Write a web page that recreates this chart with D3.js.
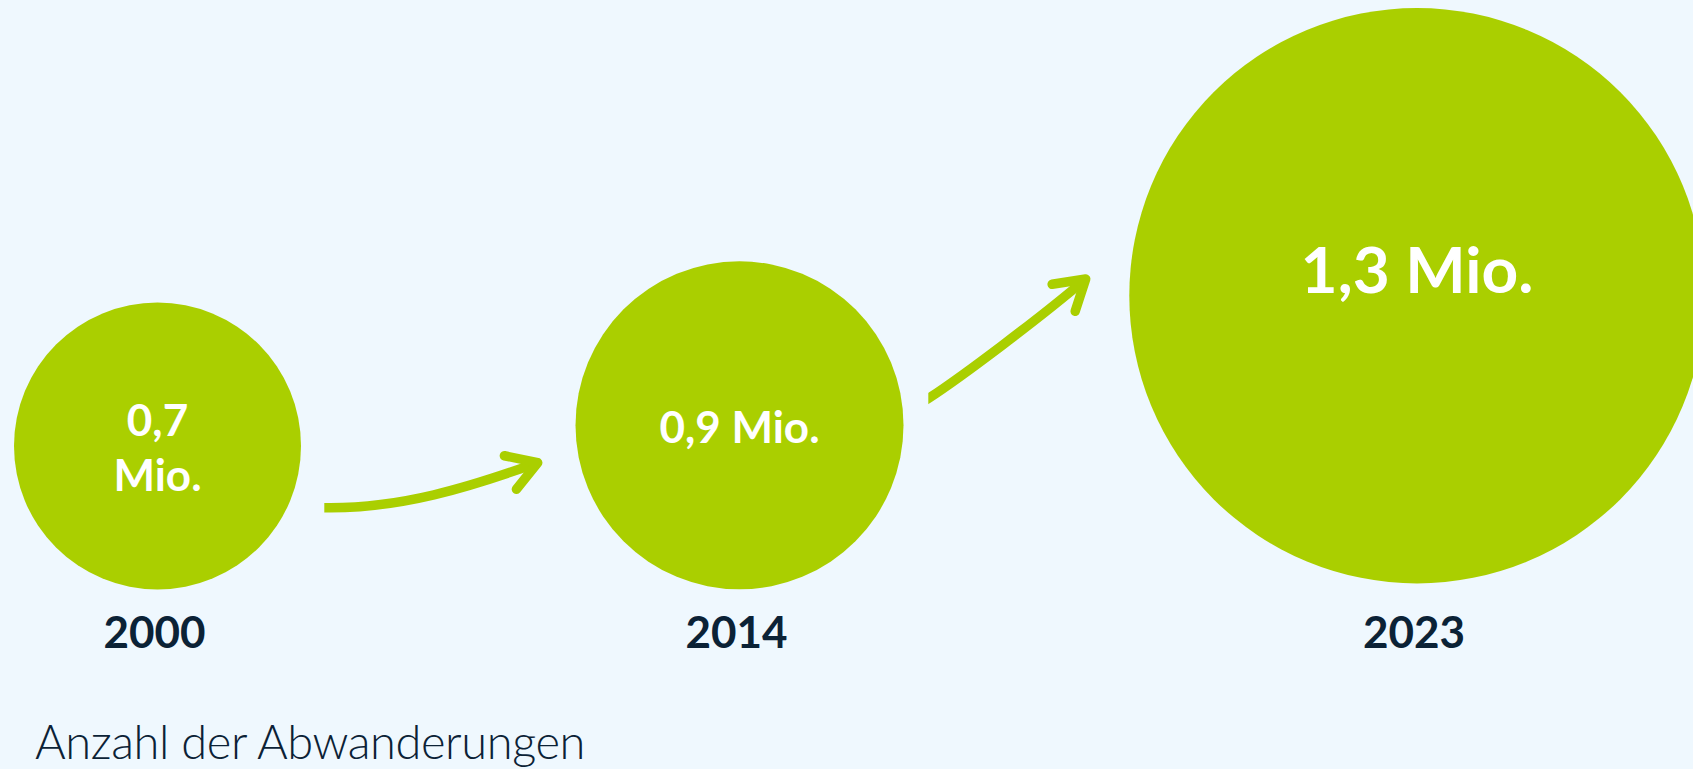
<!DOCTYPE html>
<html lang="de">
<head>
<meta charset="utf-8">
<title>Anzahl der Abwanderungen</title>
<script src="https://cdn.jsdelivr.net/npm/d3@7"></script>
<style>
  html, body { margin: 0; padding: 0; background: #eff8fe; }
  svg { display: block; }
</style>
</head>
<body>
<svg id="chart"></svg>
<script>
// --- Data ---
const years = ["2000", "2014", "2023"];
const values = [0.7, 0.9, 1.3];          // Mio. Abwanderungen
const valueLabels = ["0,7 Mio.", "0,9 Mio.", "1,3 Mio."];
const caption = "Anzahl der Abwanderungen";

// --- Setup ---
const width = 1693, height = 769;
const green = "#aacf00", navy = "#0b2236";
const font = "Lato, 'Noto Sans', sans-serif";

const svg = d3.select("#chart")
    .attr("width", width)
    .attr("height", height)
    .attr("viewBox", `0 0 ${width} ${height}`);

svg.append("rect")
    .attr("width", width)
    .attr("height", height)
    .attr("fill", "#eff8fe");

// --- Scales ---
// layout of the bubbles is hand tuned, so the scales map each year / value to its slot
const xScale = d3.scaleOrdinal().domain(years).range([157.5, 739.5, 1417]);
const yScale = d3.scaleOrdinal().domain(years).range([446, 425.3, 295.7]);
const rScale = d3.scaleLinear().domain(values).range([143.5, 164, 287.7]);
const fontScale = d3.scaleLinear().domain([164, 288]).range([44, 64]).clamp(true);

const rows = years.map((y, i) => ({ year: y, value: values[i], label: valueLabels[i] }));

// --- Bubbles ---
const groups = svg.selectAll(".bubble")
    .data(rows)
    .join("g")
    .attr("class", "bubble")
    .attr("transform", d => `translate(${xScale(d.year)},${yScale(d.year)})`);

groups.append("circle")
    .attr("r", d => rScale(d.value))
    .attr("fill", green);

// value label, wrapped onto two lines when the bubble is too small
groups.each(function (d) {
    const g = d3.select(this);
    const r = rScale(d.value);
    const size = fontScale(r);
    const text = g.append("text")
        .attr("text-anchor", "middle")
        .attr("fill", "#ffffff")
        .style("font-family", font)
        .style("font-weight", 700)
        .style("font-size", `${size}px`)
        .text(d.label);

    let lines = [d.label];
    if (text.node().getComputedTextLength() > r) lines = d.label.split(" ");
    text.text(null);

    const lh = size * 1.25;
    const capH = size * 0.72;
    const shift = r > 200 ? -26 : 2;   // the big bubble carries its label a bit higher
    const first = shift + capH / 2 - (lines.length - 1) * lh / 2;

    lines.forEach((line, i) => {
        text.append("tspan")
            .attr("x", 0)
            .attr("y", first + i * lh)
            .text(line);
    });
});

// year labels under the bubbles
svg.selectAll(".year")
    .data(rows)
    .join("text")
    .attr("class", "year")
    .attr("x", d => xScale(d.year) - 3)
    .attr("y", 648)
    .attr("text-anchor", "middle")
    .attr("fill", navy)
    .style("font-family", font)
    .style("font-weight", 700)
    .style("font-size", "44px")
    .text(d => d.year);

// --- Connecting arrows (decoration) ---
// cubic curves; the tail is cut off square by a clip box like in the original
const arrows = [
    { start: [324.3, 507.7], c1: [400, 509], c2: [470, 487], tip: [537.7, 462.7] },
    { start: [928.3, 398.5], c1: [960, 378], c2: [1040, 318], tip: [1085.7, 279] }
];

const defs = svg.append("defs");
const arrowG = svg.append("g")
    .attr("fill", "none")
    .attr("stroke", green)
    .attr("stroke-width", 9.5);

arrows.forEach((a, i) => {
    defs.append("clipPath")
        .attr("id", `arrow-clip-${i}`)
        .append("rect")
        .attr("x", a.start[0])
        .attr("y", 0)
        .attr("width", width)
        .attr("height", height);

    // lead in a little before the cut so the tail end is vertical
    const t0 = Math.atan2(a.c1[1] - a.start[1], a.c1[0] - a.start[0]);
    const p = d3.path();
    p.moveTo(a.start[0] - 12 * Math.cos(t0), a.start[1] - 12 * Math.sin(t0));
    p.lineTo(a.start[0], a.start[1]);
    p.bezierCurveTo(a.c1[0], a.c1[1], a.c2[0], a.c2[1], a.tip[0], a.tip[1]);
    arrowG.append("path")
        .attr("d", p.toString())
        .attr("clip-path", `url(#arrow-clip-${i})`);

    // arrow head: two arms folded back from the tip
    const back = Math.atan2(a.c2[1] - a.tip[1], a.c2[0] - a.tip[0]);
    const spread = 31.5 * Math.PI / 180, len = 34;
    const arm = s => [a.tip[0] + len * Math.cos(back + s), a.tip[1] + len * Math.sin(back + s)];
    arrowG.append("path")
        .attr("d", d3.line()([arm(-spread), a.tip, arm(spread)]))
        .attr("stroke-linecap", "round")
        .attr("stroke-linejoin", "round");
});

// --- Caption ---
svg.append("text")
    .attr("x", 35)
    .attr("y", 759)
    .attr("fill", navy)
    .style("font-family", font)
    .style("font-weight", 300)
    .style("font-size", "47px")
    .style("letter-spacing", "-0.4px")
    .text(caption);
</script>
</body>
</html>
